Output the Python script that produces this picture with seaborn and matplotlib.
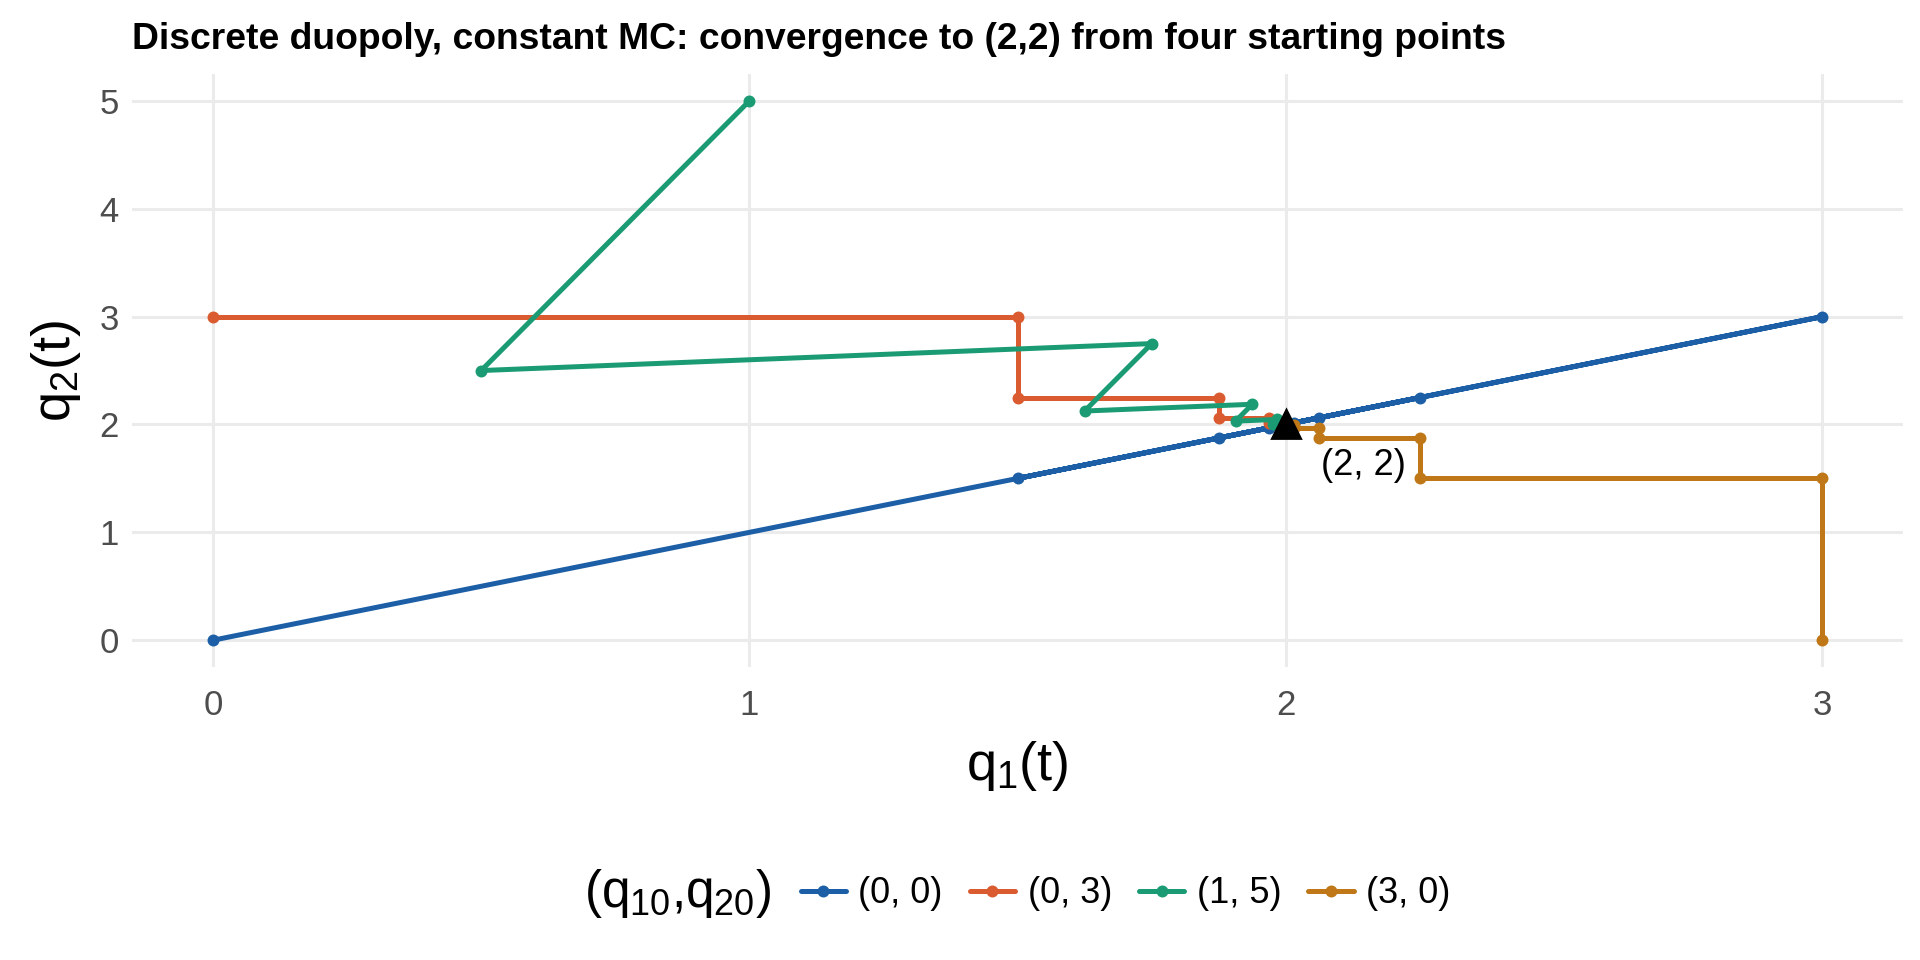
import numpy as np
import pandas as pd
import matplotlib
matplotlib.use("Agg")
import matplotlib.pyplot as plt
import seaborn as sns

# trajectories (q1(t), q2(t)) for each starting point
start_labels = ["(0, 0)", "(0, 3)", "(1, 5)", "(3, 0)"]

q1_00 = [0, 3, 1.5, 2.25, 1.875, 2.0625, 1.96875, 2.015625, 1.9921875, 2.00390625, 1.998046875, 2.0009765625]
q2_00 = [0, 3, 1.5, 2.25, 1.875, 2.0625, 1.96875, 2.015625, 1.9921875, 2.00390625, 1.998046875, 2.0009765625]

q1_03 = [0, 1.5, 1.5, 1.875, 1.875, 1.96875, 1.96875, 1.9921875, 1.9921875, 1.998046875, 1.998046875, 1.99951171875]
q2_03 = [3, 3, 2.25, 2.25, 2.0625, 2.0625, 2.015625, 2.015625, 2.00390625, 2.00390625, 2.0009765625, 2.0009765625]

q1_15 = [1, 0.5, 1.75, 1.625, 1.9375, 1.90625, 1.984375, 1.9765625, 1.99609375, 1.994140625, 1.9990234375, 1.99853515625]
q2_15 = [5, 2.5, 2.75, 2.125, 2.1875, 2.03125, 2.046875, 2.0078125, 2.01171875, 2.001953125, 2.0029296875, 2.00048828125]

q1_30 = [3, 3, 2.25, 2.25, 2.0625, 2.0625, 2.015625, 2.015625, 2.00390625, 2.00390625, 2.0009765625, 2.0009765625]
q2_30 = [0, 1.5, 1.5, 1.875, 1.875, 1.96875, 1.96875, 1.9921875, 1.9921875, 1.998046875, 1.998046875, 1.99951171875]

eq_q1 = [2]
eq_q2 = [2]
eq_label = "(2, 2)"

colors = ["#1C5FA6", "#DA5B30", "#1B9B73", "#BF7718"]

frames = []
for lab, a, b in zip(start_labels, [q1_00, q1_03, q1_15, q1_30], [q2_00, q2_03, q2_15, q2_30]):
    frames.append(pd.DataFrame({"q1": a, "q2": b, "start": lab, "t": range(len(a))}))
df = pd.concat(frames, ignore_index=True)

sns.set_theme(style="whitegrid")
plt.rcParams["font.family"] = ["Liberation Sans", "DejaVu Sans"]
plt.rcParams["mathtext.fontset"] = "custom"
plt.rcParams["mathtext.rm"] = "Liberation Sans"
plt.rcParams["mathtext.it"] = "Liberation Sans"
plt.rcParams["mathtext.bf"] = "Liberation Sans:bold"
plt.rcParams["text.color"] = "black"

fig = plt.figure(figsize=(9.6, 4.8), dpi=200)
ax = fig.add_axes([0.069, 0.305, 0.922, 0.618])

sns.lineplot(data=df, x="q1", y="q2", hue="start", palette=colors, sort=False,
             estimator=None, units="start", marker="o", markersize=4.3,
             markeredgewidth=0, linewidth=1.8, ax=ax, legend=True)

ax.plot(eq_q1, eq_q2, marker="^", color="black", markersize=10, linestyle="none", zorder=5)
ax.text(2.145, 1.62, eq_label, ha="center", va="center", fontsize=13, color="black")

ax.set_xlim(-0.15, 3.15)
ax.set_ylim(-0.25, 5.25)
ax.set_xticks([0, 1, 2, 3])
ax.set_yticks([0, 1, 2, 3, 4, 5])
ax.grid(True, color="#EBEBEB", linewidth=1.1)
for s in ax.spines.values():
    s.set_visible(False)
ax.tick_params(length=0, labelsize=12.5, labelcolor="#4D4D4D")
ax.tick_params(axis="x", pad=8)
ax.tick_params(axis="y", pad=5)
ax.set_xlabel(r"$q_1(t)$", fontsize=19.5, labelpad=6, color="black")
ax.set_ylabel(r"$q_2(t)$", fontsize=19.5, labelpad=6, color="black")
ax.set_title("Discrete duopoly, constant MC: convergence to (2,2) from four starting points",
             loc="left", fontsize=13.4, fontweight="bold", pad=9, color="black")

handles, labels = ax.get_legend_handles_labels()
ax.get_legend().remove()
fig.text(0.304, 0.069, r"$(q_{10}$,$q_{20})$", fontsize=18.5, va="center", ha="left")
fig.legend(handles, labels, loc="center left", bbox_to_anchor=(0.4, 0.069), ncol=4,
           frameon=False, fontsize=13, handlelength=1.25, handletextpad=0.35,
           columnspacing=0.75, labelcolor="black")

fig.savefig("out.png", dpi=200)
